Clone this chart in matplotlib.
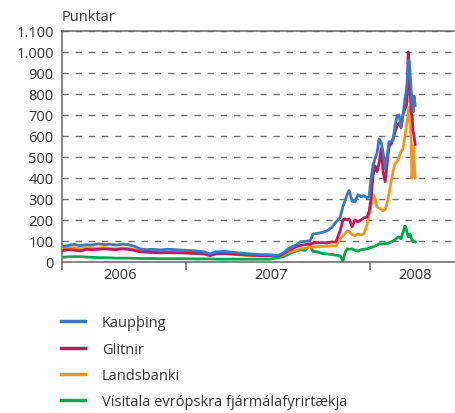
import matplotlib
matplotlib.use("Agg")
import matplotlib.pyplot as plt
from matplotlib.ticker import FixedLocator, FuncFormatter

plt.rcParams["font.family"] = ["Open Sans", "DejaVu Sans"]

# time axis in decimal years (shared by all series)
years = [
    2006.326, 2006.359, 2006.391, 2006.424, 2006.457, 2006.489, 2006.522, 2006.554,
    2006.587, 2006.620, 2006.652, 2006.685, 2006.717, 2006.750, 2006.783, 2006.815,
    2006.859, 2006.902, 2006.946, 2007.000, 2007.054, 2007.098, 2007.130, 2007.163,
    2007.207, 2007.250, 2007.293, 2007.348, 2007.402, 2007.457, 2007.500, 2007.533,
    2007.554, 2007.576, 2007.598, 2007.620, 2007.647, 2007.674, 2007.690, 2007.712,
    2007.739, 2007.766, 2007.793, 2007.815, 2007.837, 2007.853, 2007.864, 2007.875,
    2007.886, 2007.902, 2007.918, 2007.935, 2007.951, 2007.967, 2007.984, 2007.995,
    2008.005, 2008.016, 2008.027, 2008.038, 2008.049, 2008.060, 2008.071, 2008.082,
    2008.092, 2008.103, 2008.114, 2008.125, 2008.136, 2008.147, 2008.158, 2008.168,
    2008.179, 2008.190, 2008.196, 2008.201, 2008.207, 2008.212, 2008.217, 2008.223,
    2008.228, 2008.234, 2008.239, 2008.245,
]

kaupthing = [
    73, 78, 84, 77, 82, 80, 86, 82, 84, 80, 84, 82, 75, 62, 58, 60,
    57, 60, 58, 55, 52, 48, 38, 48, 50, 46, 42, 38, 35, 34, 30, 45,
    62, 72, 80, 95, 98, 100, 133, 135, 140, 148, 165, 190, 210, 265,
    290, 320, 340, 290, 285, 320, 310, 315, 305, 310, 395, 460, 490, 520,
    585, 570, 520, 443, 500, 571, 575, 580, 650, 697, 700, 640, 700, 780,
    810, 850, 950, 960, 900, 824, 760, 714, 790, 745,
]

glitnir = [
    54, 58, 56, 52, 60, 58, 60, 62, 60, 58, 62, 60, 55, 48, 46, 45,
    43, 44, 43, 42, 40, 38, 30, 38, 40, 38, 35, 32, 30, 30, 26, 40,
    55, 62, 72, 78, 82, 86, 88, 90, 92, 90, 95, 95, 148, 200,
    205, 200, 205, 167, 200, 190, 200, 210, 214, 240, 300, 410, 457, 430,
    470, 540, 430, 381, 460, 550, 560, 585, 620, 648, 660, 640, 700, 729,
    740, 760, 1000, 950, 830, 714, 700, 620, 600, 560,
]

landsbanki = [
    62, 66, 68, 62, 68, 65, 66, 68, 64, 62, 66, 64, 58, 52, 50, 50,
    48, 47, 46, 45, 42, 40, 32, 40, 40, 36, 33, 30, 28, 28, 26, 35,
    45, 50, 55, 62, 66, 71, 70, 72, 74, 75, 76, 76, 110, 125,
    133, 148, 145, 130, 125, 133, 128, 135, 180, 230, 262, 320, 300, 262,
    255, 250, 243, 250, 276, 324, 380, 430, 470, 476, 500, 524, 540, 600,
    640, 667, 700, 735, 660, 585, 400, 550, 480, 400,
]

eu_index = [
    22, 24, 25, 25, 23, 22, 20, 20, 19, 18, 18, 18, 17, 16, 16, 16,
    15, 15, 15, 15, 14, 14, 14, 13, 13, 13, 13, 13, 13, 13, 20, 26,
    35, 45, 52, 57, 55, 78, 50, 48, 40, 38, 35, 32, 29, 5,
    45, 62, 60, 62, 55, 52, 58, 60, 62, 66, 70, 71, 75, 80,
    86, 86, 85, 88, 86, 90, 95, 100, 105, 115, 119, 110, 140, 171,
    160, 140, 119, 125, 133, 115, 105, 95, 100, 95,
]

labels = ["Kaupþing", "Glitnir", "Landsbanki", "Vísitala evrópskra fjármálafyrirtækja"]
colors = ["#3b78c1", "#c2185b", "#f7941d", "#00a650"]

year_bounds = [2006.326, 2007.0, 2008.0]
year_labels = ["2006", "2007", "2008"]
year_label_pos = [2006.64, 2007.46, 2008.245]
x_range = (2006.326, 2008.467)

grey = "#333333"
fs = 10.5
fig = plt.figure(figsize=(4.56, 4.14), dpi=100)
ax = fig.add_axes([0.136, 0.365, 0.864, 0.558])

series = [kaupthing, glitnir, landsbanki, eu_index]
order = [3, 2, 1, 0]  # draw the index first, Kaupþing on top
handles = [None] * 4
for i in order:
    (h,) = ax.plot(years, series[i], color=colors[i], lw=2.0, label=labels[i],
                   solid_joinstyle="round", zorder=3 + (3 - i))
    handles[i] = h

ax.set_xlim(*x_range)
ax.set_ylim(0, 1100)
ax.set_yticks(range(0, 1101, 100))
ax.yaxis.set_major_formatter(FuncFormatter(lambda v, p: f"{int(v):,}".replace(",", ".")))
ax.tick_params(axis="y", length=0, pad=6, labelsize=fs, labelcolor=grey)

ax.xaxis.set_major_locator(FixedLocator(year_bounds))
ax.xaxis.set_minor_locator(FixedLocator(year_label_pos))
ax.set_xticklabels([], minor=False)
ax.set_xticklabels(year_labels, minor=True)
ax.tick_params(axis="x", which="major", length=6, width=1.1, color="#666666", direction="out")
ax.tick_params(axis="x", which="minor", length=0, pad=3.5, labelsize=fs, labelcolor=grey)

ax.yaxis.grid(True, color="#707070", lw=1.0, linestyle=(0, (4.5, 5)))
ax.set_axisbelow(True)
for side in ["left", "top", "bottom"]:
    ax.spines[side].set_color("#666666")
    ax.spines[side].set_linewidth(1.1)
ax.spines["right"].set_visible(False)

fig.text(0.136, 0.957, "Punktar", fontsize=fs, color=grey, va="center", ha="left")

leg = fig.legend(handles=handles, labels=labels, loc="upper left",
                 bbox_to_anchor=(0.134, 0.236), frameon=False, fontsize=fs,
                 handlelength=1.65, handletextpad=1.15, labelspacing=0.78,
                 borderpad=0, borderaxespad=0, labelcolor=grey)
for line in leg.get_lines():
    line.set_linewidth(2.5)

fig.savefig("out.png", dpi=100)
